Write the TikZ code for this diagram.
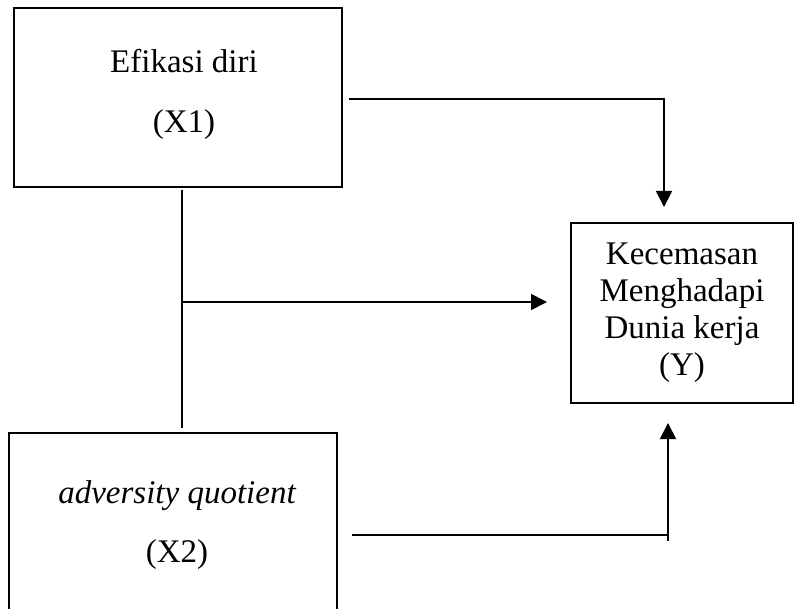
\documentclass[tikz,border=0pt]{standalone}
\usepackage{fontspec}
\setmainfont{Liberation Serif}
\usetikzlibrary{arrows.meta,calc}
\begin{document}
\begin{tikzpicture}[x=1pt,y=-1pt,
  box/.style={draw,line width=2pt,rectangle,inner sep=0pt},
  lbl/.style={font=\fontsize{33}{37}\selectfont,align=center,inner sep=0pt},
  conn/.style={line width=1.7pt},
  arr/.style={conn,-{Triangle[length=16pt,width=16pt]}}]
\useasboundingbox (0,0) rectangle (794,609);
\clip (0,0) rectangle (794,609);
% boxes
\node[box,minimum width=328pt,minimum height=179pt] (x1) at (178,97.5) {};
\node[box,minimum width=328pt,minimum height=260pt] (x2) at (173,563) {};
\node[box,minimum width=222pt,minimum height=180pt] (y) at (682,313) {};
% texts
\node[lbl] (x1a) at (184,61) {Efikasi diri};
\node[lbl] (x1b) at (184,125) {(X1)};
\node[lbl] (x2a) at (177,496) {\itshape adversity quotient};
\node[lbl] (x2b) at (177,555) {(X2)};
\node[lbl] (yt) at (682,313) {Kecemasan\\Menghadapi\\Dunia kerja\\(Y)};
% connector points
\coordinate (t1) at (349,99);
\coordinate (t2) at (664,99);
\coordinate (t3) at (664,207);
\coordinate (m1) at (182,190);
\coordinate (m2) at (182,428);
\coordinate (m3) at (182,302);
\coordinate (m4) at (547,302);
\coordinate (b1) at (352,535);
\coordinate (b2) at (668,535);
\coordinate (b3) at (668,541);
\coordinate (b4) at (668,423);
% connectors
\draw[arr] (t1) -- (t2) -- (t3);
\draw[conn] (m1) -- (m2);
\draw[arr] (m3) -- (m4);
\draw[conn] (b1) -- (b2);
\draw[arr] (b3) -- (b4);
\end{tikzpicture}
\end{document}
